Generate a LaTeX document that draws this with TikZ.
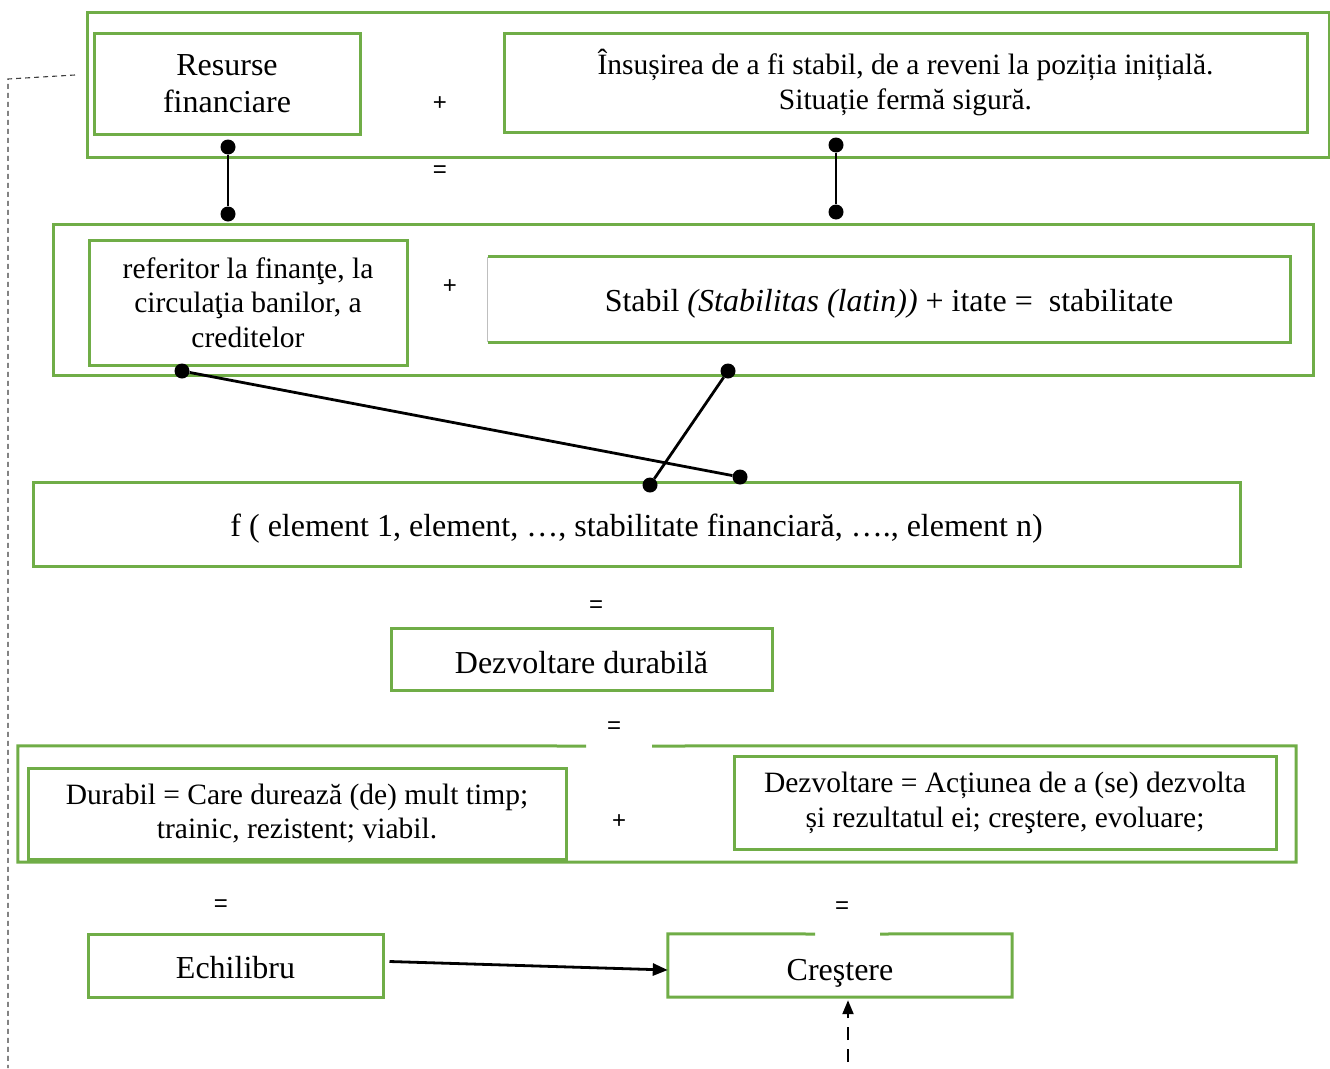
\documentclass[tikz,border=0pt]{standalone}
\usepackage{fontspec}
\setmainfont{Liberation Serif}
\newfontfamily\signfont{Liberation Sans}
\usetikzlibrary{arrows.meta}
\definecolor{boxgreen}{HTML}{70AD47}
\begin{document}
\begin{tikzpicture}[x=1pt,y=-1pt,
  every node/.style={font=\fontsize{32}{37}\selectfont},
  smalltext/.style={font=\fontsize{29.5}{34.5}\selectfont},
  gbox/.style={draw=boxgreen, line width=3pt, inner sep=0pt, align=center},
  nobox/.style={draw=none, inner sep=0pt, align=center},
  gline/.style={draw=boxgreen, line width=3pt, line join=miter},
  sign/.style={font=\signfont\fontsize{24}{28}\selectfont, inner sep=0pt},
  dot/.style={circle, fill=black, inner sep=0pt, minimum size=15pt},
  conn/.style={line width=2.8pt},
  leftdash/.style={line width=1.1pt, draw=black!75, dash pattern=on 5pt off 4pt},
  dasharrow/.style={line width=2.2pt, dash pattern=on 13pt off 9pt, -{Triangle[length=14pt,width=11pt]}},
  solidarrow/.style={line width=2.8pt, -{Triangle[length=15pt,width=12pt]}}
]
\useasboundingbox (0,0) rectangle (1330,1068);

% row 1
\node[gbox, minimum width=1242pt, minimum height=145pt] (o1) at (708,84.5) {};
\node[gbox, minimum width=266pt, minimum height=101pt] (rf) at (227,84) {Resurse\\financiare};
\node[gbox, smalltext, minimum width=803pt, minimum height=99pt] (ins) at (905.5,82.5)
  {Însușirea de a fi stabil, de a reveni la poziția inițială.\\Situație fermă sigură.};
\node[sign] (p1) at (440,104) {+};
\node[sign] (e1) at (440,172) {=};

% row 2
\node[gbox, minimum width=1260pt, minimum height=151pt] (o2) at (683,299.5) {};
\node[gbox, smalltext, minimum width=318pt, minimum height=125pt] (ref) at (248,302.5)
  {referitor la finanţe, la\\circulaţia banilor, a\\creditelor};
\node[sign] (p2) at (450,287) {+};
\node[nobox, minimum width=802pt, minimum height=85pt, text height=29.5pt, text depth=6pt] (st) at (889,299.5)
  {Stabil \textit{(Stabilitas (latin))} + itate =\ \ stabilitate};
\draw[gline] (st.north west) -- (st.north east) -- (st.south east) -- (st.south west);
\draw[line width=0.8pt, draw=black!25] (st.south west) -- (st.north west);

% connectors top
\node[dot] (d1) at (228,147) {};
\node[dot] (d2) at (228,214) {};
\node[dot] (d3) at (836,145) {};
\node[dot] (d4) at (836,212) {};
\draw[conn] (d1) -- (d2);
\draw[conn] (d3) -- (d4);

% f box
\node[gbox, minimum width=1207pt, minimum height=84pt, text height=31pt, text depth=6pt] (fb) at (636.5,524)
  {f ( element 1, element, …, stabilitate financiară, …., element n)};
\node[dot] (d5) at (182,371) {};
\node[dot] (d6) at (740,477) {};
\node[dot] (d7) at (728,371) {};
\node[dot] (d8) at (650,485) {};
\draw[conn] (d5) -- (d6);
\draw[conn] (d7) -- (d8);

% dezvoltare durabila
\node[sign] (e2) at (596,607) {=};
\node[gbox, minimum width=381pt, minimum height=62pt, text height=28pt, text depth=0pt] (dd) at (581.5,659) {Dezvoltare durabilă};
\node[sign] (e3) at (614,728) {=};

% row 3
\node[nobox, minimum width=1278pt, minimum height=116pt] (o3) at (657,804) {};
\draw[gline] (586,746) -- (o3.north west) -- (o3.south west) -- (o3.south east) -- (o3.north east) -- (652,746);
\node[gbox, smalltext, minimum width=538pt, minimum height=91pt] (dur) at (297,813.5)
  {Durabil = Care durează (de) mult timp;\\trainic, rezistent; viabil.};
\node[sign] (p3) at (619,822) {+};
\node[gbox, smalltext, minimum width=542pt, minimum height=93pt] (dez) at (1005,803)
  {Dezvoltare = Acțiunea de a (se) dezvolta\\și rezultatul ei; creştere, evoluare;};

% bottom
\node[sign] (e4) at (221,906) {=};
\node[sign] (e5) at (842,908) {=};
\node[gbox, minimum width=295pt, minimum height=63pt, text height=26pt, text depth=0pt] (ech) at (235.5,965.5) {Echilibru};
\node[nobox, minimum width=344pt, minimum height=63pt, text height=29pt, text depth=0pt] (cre) at (840,965.5) {Creştere};
\draw[gline] (815,934) -- (cre.north west) -- (cre.south west) -- (cre.south east) -- (cre.north east) -- (880,934);
\draw[solidarrow] ([shift={(5pt,4pt)}]ech.east) -- ([yshift=-4.5pt]cre.west);
\coordinate (up0) at (848,1062);
\draw[dasharrow] (up0) -- ([shift={(8pt,-3pt)}]cre.south);

% left dashed line
\coordinate (dl0) at (75,75);
\coordinate (dl1) at (8,79);
\coordinate (dl2) at (8,1068);
\draw[leftdash] (dl0) -- (dl1) -- (dl2);
\end{tikzpicture}
\end{document}
